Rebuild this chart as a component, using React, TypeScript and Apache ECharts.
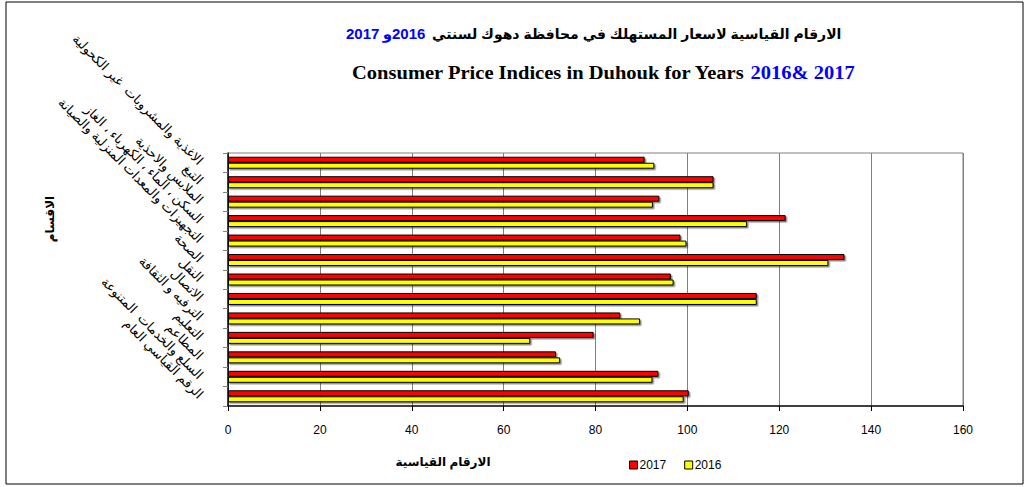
import React, { useEffect, useRef } from "react";
import * as echarts from "echarts";

const categories = [
  "الاغذية والمشروبات  غير الكحولية",
  "التبغ",
  "الملابس والاحذية",
  "السكن ، الماء ، الكهرباء ، الغاز",
  "التجهيزات والمعدات المنزلية والصيانة",
  "الصحة",
  "النقل",
  "الاتصال",
  "الترفيه و الثقافة",
  "التعليم",
  "المطاعم",
  "السلع والخدمات  المتنوعة",
  "الرقم القياسي العام",
];

const values2017 = [90.7, 105.7, 93.9, 121.4, 98.5, 134.2, 96.4, 115.1, 85.4, 79.6, 71.4, 93.7, 100.3];
const values2016 = [92.8, 105.7, 92.5, 113.0, 99.8, 130.7, 97.0, 115.1, 89.7, 65.8, 72.3, 92.4, 99.2];

const xTicks = { min: 0, max: 160, interval: 20 };

const titleAr = "الارقام القياسية لاسعار المستهلك في محافظة دهوك لسنتي";
const titleEn = "Consumer Price Indices in Duhouk for Years ";
const titleEnYears = "2016& 2017";
const xName = "الارقام القياسية";
const yName = "الاقسام";

export default function App() {
  const ref = useRef<HTMLDivElement>(null);
  useEffect(() => {
    if (!ref.current) return;
    const chart = echarts.init(ref.current, null, { renderer: "svg" });
    const arFont = "Liberation Sans, DejaVu Sans, sans-serif";
    const latFont = "Liberation Sans, Arial, sans-serif";
    const serif = "Liberation Serif, Times New Roman, serif";
    const barShadow = { shadowColor: "rgba(0,0,0,0.45)", shadowOffsetX: 1.5, shadowOffsetY: 1.5, shadowBlur: 0 };
    chart.setOption({
      animation: false,
      backgroundColor: "#ffffff",
      grid: { left: 228, top: 153, width: 735, height: 253, containLabel: false, show: false },
      legend: {
        left: 624,
        top: 454,
        itemWidth: 8,
        itemHeight: 8,
        itemGap: 18,
        icon: "rect",
        textStyle: { fontFamily: latFont, fontSize: 12, color: "#000", padding: [0, 0, 0, -3] },
        data: [
          { name: "2017", itemStyle: { color: "#ff0000", borderColor: "#000", borderWidth: 1 } },
          { name: "2016", itemStyle: { color: "#ffff00", borderColor: "#000", borderWidth: 1 } },
        ],
      },
      xAxis: {
        type: "value",
        min: xTicks.min,
        max: xTicks.max,
        interval: xTicks.interval,
        axisLine: { show: true, lineStyle: { color: "#000", width: 1.5 } },
        axisTick: { show: true, length: 5, lineStyle: { color: "#000" } },
        axisLabel: { margin: 18, fontSize: 12, color: "#000", fontFamily: latFont },
        splitLine: { show: true, lineStyle: { color: "#808080", width: 1 } },
      },
      yAxis: {
        type: "category",
        inverse: true,
        data: categories,
        axisLine: { show: true, lineStyle: { color: "#000", width: 1.5 } },
        axisTick: { show: true, length: 5, lineStyle: { color: "#808080" } },
        axisLabel: {
          interval: 0,
          rotate: -45,
          align: "right",
          verticalAlign: "middle",
          margin: 27,
          fontSize: 13,
          color: "#000",
          fontFamily: arFont,
        },
        splitLine: { show: false },
      },
      series: [
        {
          name: "2017",
          type: "bar",
          data: values2017,
          barWidth: 6,
          barGap: "0%",
          itemStyle: { color: "#ff0000", borderColor: "#000", borderWidth: 1, ...barShadow },
        },
        {
          name: "2016",
          type: "bar",
          data: values2016,
          barWidth: 6,
          barGap: "0%",
          itemStyle: { color: "#ffff00", borderColor: "#000", borderWidth: 1, ...barShadow },
        },
      ],
      graphic: [
        {
          type: "rect",
          shape: { x: 6, y: 2, width: 1017, height: 482 },
          style: { fill: "none", stroke: "#000", lineWidth: 1 },
          silent: true,
        },
        {
          type: "line",
          shape: { x1: 228, y1: 153, x2: 963, y2: 153 },
          style: { stroke: "#808080", lineWidth: 1 },
        },
        {
          type: "line",
          shape: { x1: 963, y1: 153, x2: 963, y2: 406 },
          style: { stroke: "#808080", lineWidth: 1 },
        },
        {
          type: "text",
          left: 346,
          top: 26,
          style: {
            text: "{b|2017} {b|و}{b|2016}  {a|" + titleAr + "}",
            rich: {
              a: { fontFamily: arFont, fontWeight: "bold", fontSize: 14, fill: "#000" },
              b: { fontFamily: arFont, fontWeight: "bold", fontSize: 15, fill: "#0000ff" },
            },
          },
        },
        {
          type: "text",
          x: 352,
          y: 64,
          scaleX: 1.14,
          style: {
            text: "{a|" + titleEn + "}{b|" + titleEnYears + "}",
            rich: {
              a: { fontFamily: serif, fontWeight: "bold", fontSize: 18, fill: "#000" },
              b: { fontFamily: serif, fontWeight: "bold", fontSize: 18, fill: "#0000ff" },
            },
          },
        },
        {
          type: "text",
          x: 443,
          y: 462,
          style: {
            text: xName,
            fontFamily: arFont,
            fontWeight: "bold",
            fontSize: 12,
            fill: "#000",
            align: "center",
            verticalAlign: "middle",
          },
        },
        {
          type: "text",
          x: 50,
          y: 219,
          rotation: Math.PI / 2,
          style: {
            text: yName,
            fontFamily: arFont,
            fontWeight: "bold",
            fontSize: 12,
            fill: "#000",
            align: "center",
            verticalAlign: "middle",
          },
        },
      ],
    });
    return () => chart.dispose();
  }, []);
  return (
    <div
      ref={ref}
      style={{ position: "absolute", left: 0, top: 0, width: 1031, height: 487 }}
    />
  );
}
